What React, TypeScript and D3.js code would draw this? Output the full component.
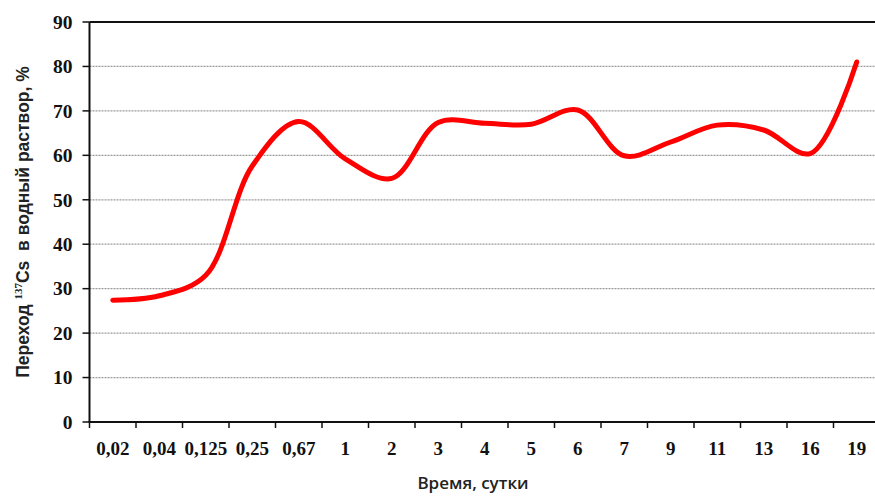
import React from "react";
import * as d3 from "d3";

const categories = ["0,02", "0,04", "0,125", "0,25", "0,67", "1", "2", "3", "4", "5", "6", "7", "9", "11", "13", "16", "19"];
const values = [27.4, 28.4, 33, 57.6, 67.6, 59.2, 54.8, 67.4, 67.2, 67, 70.2, 59.9, 63, 66.8, 65.7, 60.4, 81];
const yTicks = [0, 10, 20, 30, 40, 50, 60, 70, 80, 90];

const W = 875, H = 496;
const left = 89.5, right = 880, top = 22, bottom = 422;

export default function App() {
  const x = d3.scaleBand<string>().domain(categories).range([left, right]).padding(0);
  const y = d3.scaleLinear().domain([0, 90]).range([bottom, top]);
  const line = d3
    .line<number>()
    .x((_, i) => (x(categories[i]) as number) + x.bandwidth() / 2)
    .y((d) => y(d))
    .curve(d3.curveCatmullRom.alpha(0.5));
  const boundaries = categories.map((c) => x(c) as number).concat([right]);
  return (
    <svg width={W} height={H} style={{ position: "absolute", left: 0, top: 0, background: "#fff" }}>
      {yTicks.filter((t) => t > 0 && t < 90).map((t) => (
        <line key={t} x1={left} x2={W} y1={y(t)} y2={y(t)} stroke="#9a9a9a" strokeWidth={1.2} strokeDasharray="2,1" />
      ))}
      <line x1={left} x2={W} y1={y(90)} y2={y(90)} stroke="#111" strokeWidth={2} />
      <line x1={left} x2={left} y1={top} y2={bottom} stroke="#111" strokeWidth={2} />
      <line x1={left - 1} x2={W} y1={bottom} y2={bottom} stroke="#111" strokeWidth={2} />
      {yTicks.map((t) => (
        <g key={t}>
          <line x1={left - 7} x2={left} y1={y(t)} y2={y(t)} stroke="#111" strokeWidth={1.5} />
          <text x={72.5} y={y(t)} dy="0.35em" textAnchor="end" fontFamily="Liberation Serif" fontWeight="bold" fontSize={19.5} fill="#111">
            {t}
          </text>
        </g>
      ))}
      {boundaries.map((b, i) => (
        <line key={i} x1={b} x2={b} y1={bottom} y2={bottom + 6} stroke="#111" strokeWidth={1.5} />
      ))}
      {categories.map((c) => (
        <text key={c} x={(x(c) as number) + x.bandwidth() / 2} y={455} textAnchor="middle" fontFamily="Liberation Serif" fontWeight="bold" fontSize={19} fill="#111">
          {c}
        </text>
      ))}
      <path d={line(values) || ""} fill="none" stroke="#ff0000" strokeWidth={5} strokeLinecap="round" strokeLinejoin="round" />
      <text x={473} y={489} textAnchor="middle" fontFamily="Open Sans" fontWeight={600} fontSize={17} fill="#222">
        Время, сутки
      </text>
      <text transform={`translate(29, ${(top + bottom) / 2}) rotate(-90)`} textAnchor="middle" fontFamily="Liberation Sans" fontWeight="bold" fontSize={17.5} fill="#222" style={{ whiteSpace: "pre" }}>
        Переход <tspan fontSize={11} fontFamily="Liberation Serif" dy={-7}>137</tspan>
        <tspan dy={7}>{"Cs  в водный раствор, %"}</tspan>
      </text>
    </svg>
  );
}
